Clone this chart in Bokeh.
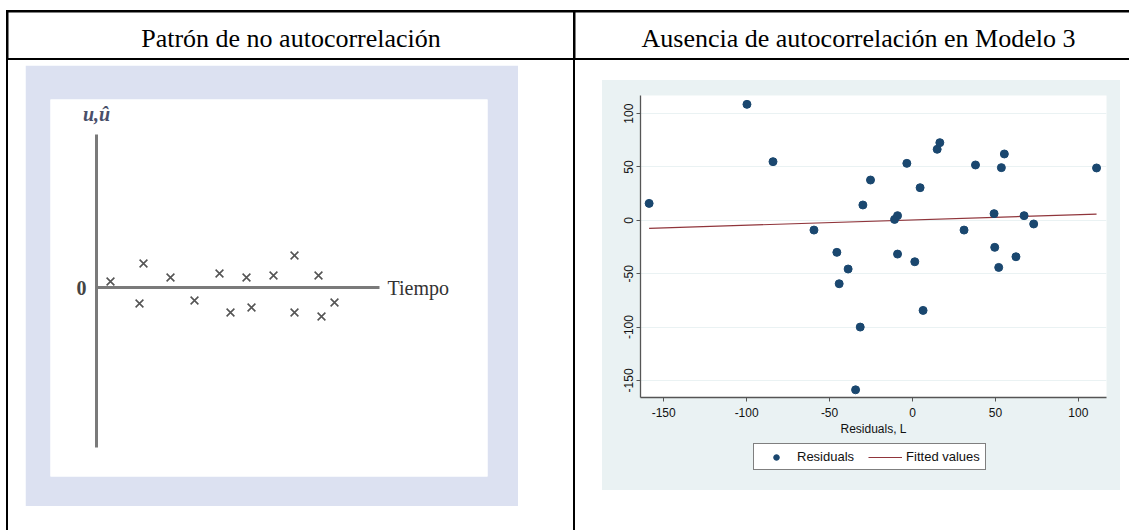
from bokeh.plotting import figure
from bokeh.layouts import row, column
from bokeh.models import Range1d, Legend, LegendItem, FixedTicker
from bokeh.core.properties import value
from bokeh.embed import file_html
from bokeh.resources import INLINE

# ---------------- data ----------------
titles = ["Patrón de no autocorrelación", "Ausencia de autocorrelación en Modelo 3"]

# left panel: illustrative residuals (no autocorrelation pattern)
tiempo = [1.4, 4.3, 4.7, 7.4, 9.8, 12.3, 13.4, 15.0, 15.5, 17.7, 19.8, 19.8, 22.2, 22.5, 23.8]
u_hat = [0.6, -1.6, 2.4, 1.0, -1.3, 1.4, -2.5, 1.0, -2.0, 1.2, 3.2, -2.5, 1.2, -2.9, -1.5]

# right panel: residuals vs lagged residuals (Modelo 3)
resid_lag = [-158.8, -99.8, -84.1, -59.4, -45.6, -44.2, -38.8, -29.9, -25.3, -10.8,
             -9.0, -9.0, -3.4, 1.4, 4.6, 14.9, 16.5, 31.1, 38.0, 49.2,
             49.6, 52.0, 53.6, 55.4, 62.4, 67.3, 73.1, 111.0, 6.4, -31.5, -34.3]
resid = [15.9, 108.7, 55.0, -9.1, -30.0, -59.4, -45.6, 14.4, 37.8, 0.9,
         4.4, -31.6, 53.4, -38.8, 30.6, 66.6, 72.8, -9.1, 51.9, 6.3,
         -25.3, -44.1, 49.4, 62.2, -34.1, 4.4, -3.4, 49.1, -84.4, -100.0, -158.8]
fit_x = [-158.8, 111.0]
fit_y = [-7.5, 5.9]
x_ticks = [-150, -100, -50, 0, 50, 100]
y_ticks = [-150, -100, -50, 0, 50, 100]
legend_labels = ["Residuals", "Fitted values"]

SERIF = value("Liberation Serif")
STATA_BG = "#EAF2F3"
NAVY = "#1A476F"
MAROON = "#90353B"


def bare(fig):
    fig.outline_line_color = None
    fig.grid.visible = False
    return fig


# ---------------- header cells ----------------
def header(w, h, txt, cx):
    p = figure(width=w, height=h, x_range=Range1d(0, w), y_range=Range1d(0, h),
               x_axis_type=None, y_axis_type=None, min_border=0,
               output_backend="svg", toolbar_location=None)
    bare(p)
    p.border_fill_color = "white"
    p.background_fill_color = "white"
    p.text(x=[cx], y=[h - 26], text=[txt], text_font=SERIF, text_font_size="26px",
           text_align="center", text_baseline="alphabetic", text_color="black")
    return p


HDR_H = 46
BODY_H = 470
hL = header(565, HDR_H, titles[0], 282.5)
hR = header(554, HDR_H, titles[1], 283.0)

# ---------------- left diagram ----------------
bL = figure(width=493, height=441, x_range=Range1d(-4.6, 39.1), y_range=Range1d(-18.9, 18.8),
            x_axis_type=None, y_axis_type=None,
            min_border_left=25, min_border_right=31, min_border_top=34, min_border_bottom=30,
            output_backend="svg", toolbar_location=None,
            margin=(5, 565 - 17 - 493, BODY_H - 5 - 441, 17))
bare(bL)
bL.border_fill_color = "#DCE1F1"
bL.background_fill_color = "white"
AX_T_END, AX_U_TOP, AX_U_BOT = 28.3, 15.3, -16.0
bL.segment(x0=[0, 0], y0=[AX_U_BOT, 0], x1=[0, AX_T_END], y1=[AX_U_TOP, 0],
           line_color="#7a7a7a", line_width=3)
bL.scatter(tiempo, u_hat, marker="x", size=11, line_color="#555555", line_width=1.6)
bL.text(x=[AX_T_END + 0.8], y=[0], text=["Tiempo"], text_font=SERIF, text_font_size="20px",
        text_align="left", text_baseline="middle", text_color="#333333")
bL.text(x=[-1.5], y=[0], text=["0"], text_font=SERIF, text_font_size="20px", text_font_style="bold",
        text_align="center", text_baseline="middle", text_color="#444444")
bL.text(x=[0], y=[17.4], text=["u,û"], text_font=SERIF, text_font_size="20px",
        text_font_style="bold italic", text_align="center", text_baseline="middle",
        text_color="#4a4f6a")

# ---------------- right: Stata-like scatter ----------------
R_W = 518
R_PLOT_H = 360
LEG_H = 50
bR = figure(width=R_W, height=R_PLOT_H, x_range=Range1d(-164, 117), y_range=Range1d(-166, 117),
            min_border_left=38, min_border_right=14, min_border_top=15, min_border_bottom=43,
            output_backend="svg", toolbar_location=None)
bR.outline_line_color = None
bR.border_fill_color = STATA_BG
bR.background_fill_color = "white"
bR.xgrid.visible = False
bR.ygrid.ticker = FixedTicker(ticks=y_ticks)
bR.ygrid.grid_line_color = STATA_BG
bR.ygrid.grid_line_width = 1.2
bR.xaxis.ticker = FixedTicker(ticks=x_ticks)
bR.yaxis.ticker = FixedTicker(ticks=y_ticks)
bR.xaxis.major_label_overrides = {t: str(t) for t in x_ticks}
bR.yaxis.major_label_overrides = {t: str(t) for t in y_ticks}
for ax in (bR.xaxis[0], bR.yaxis[0]):
    ax.axis_line_color = "#555555"
    ax.axis_line_width = 1.3
    ax.major_tick_line_color = "#555555"
    ax.major_tick_out = 4
    ax.major_tick_in = 0
    ax.minor_tick_line_color = None
    ax.major_label_text_font = "Liberation Sans"
    ax.major_label_text_font_size = "12px"
    ax.major_label_text_color = "#111111"
bR.yaxis.major_label_orientation = "vertical"
bR.yaxis.major_label_standoff = 3
bR.xaxis.major_label_standoff = 6
bR.xaxis.axis_label = "Residuals, L"
bR.xaxis.axis_label_text_font = "Liberation Sans"
bR.xaxis.axis_label_text_font_size = "12px"
bR.xaxis.axis_label_text_font_style = "normal"
bR.xaxis.axis_label_text_color = "#111111"
bR.xaxis.axis_label_standoff = 2

bR.line(fit_x, fit_y, line_color=MAROON, line_width=1.2)
bR.scatter(resid_lag, resid, size=8, fill_color=NAVY, line_color=NAVY)

# legend strip (lower part of the Stata graph region); the same series are
# drawn here off-view only so that the legend can show their glyphs.
# Its frame is aligned with the scatter's frame by the column layout.
leg = figure(width=R_W, height=LEG_H, x_range=Range1d(1000, 1001), y_range=Range1d(1000, 1001),
             x_axis_type=None, y_axis_type=None, min_border=0,
             output_backend="svg", toolbar_location=None)
bare(leg)
leg.border_fill_color = STATA_BG
leg.background_fill_color = STATA_BG
proxy_pts = leg.scatter(resid_lag, resid, size=8, fill_color=NAVY, line_color=NAVY)
proxy_fit = leg.line(fit_x, fit_y, line_color=MAROON, line_width=1.2)
legend = Legend(items=[LegendItem(label=legend_labels[0], renderers=[proxy_pts]),
                       LegendItem(label=legend_labels[1], renderers=[proxy_fit])],
                orientation="horizontal", location=(113, 20),
                border_line_color="black", border_line_width=1,
                background_fill_color="white", background_fill_alpha=1,
                label_text_font="Liberation Sans", label_text_font_size="13px",
                label_text_color="#111111",
                glyph_width=34, glyph_height=14, spacing=14, padding=5,
                label_standoff=4, margin=0)
leg.add_layout(legend)

# ---------------- table layout ----------------
stata = column(bR, leg, spacing=0, margin=(20, 554 - 27 - R_W, BODY_H - 20 - R_PLOT_H - LEG_H, 27),
               styles={"background-color": STATA_BG})
bLw = column(bL, styles={"background-color": "white"})
bRw = column(stata, styles={"background-color": "white"})
head_row = row(hL, hR, spacing=2, margin=(2, 0, 0, 2))
body_row = row(bLw, bRw, spacing=2, margin=(0, 0, 0, 2))
root = column(head_row, body_row, spacing=2, margin=(10, 0, 0, 6),
              styles={"background-color": "black"})

open("out.html", "w").write(file_html(root, INLINE))
